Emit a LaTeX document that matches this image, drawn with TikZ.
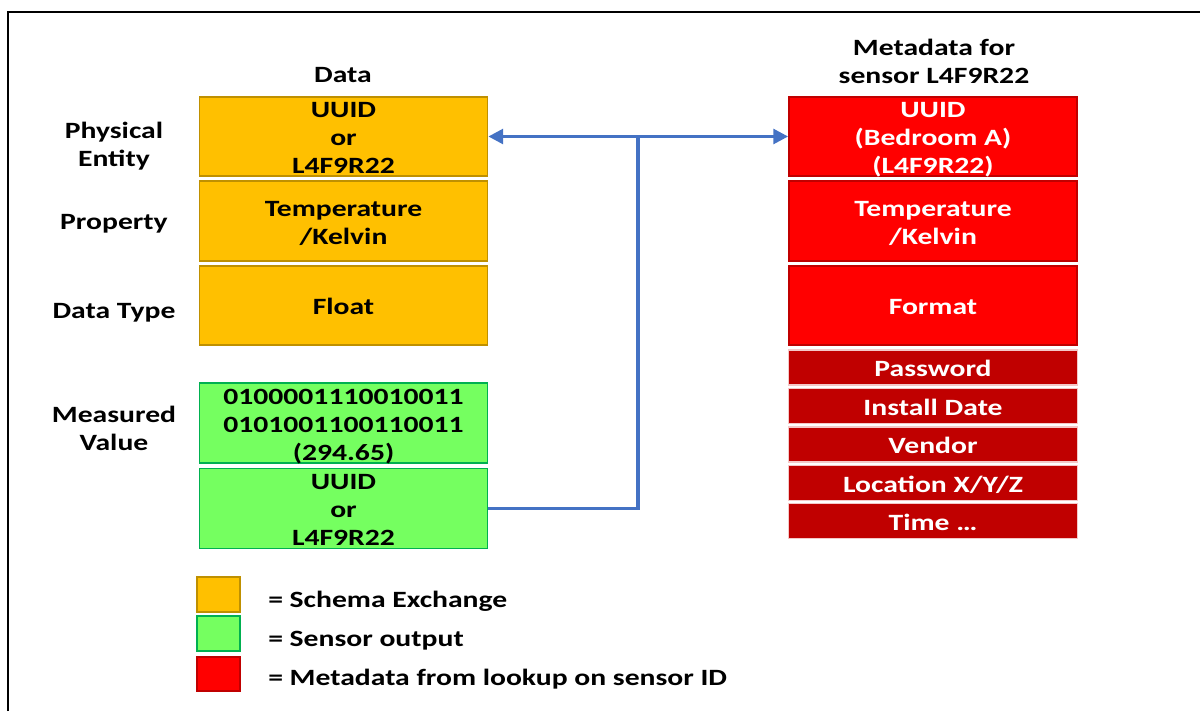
\documentclass[tikz,border=0pt]{standalone}
\usepackage{fontspec}
\setmainfont{Carlito}[FakeStretch=1.27]
\usetikzlibrary{arrows.meta}
\definecolor{orf}{HTML}{FFC000}
\definecolor{ord}{HTML}{BF9000}
\definecolor{grf}{HTML}{75FF60}
\definecolor{grd}{HTML}{00B050}
\definecolor{rdf}{HTML}{FF0000}
\definecolor{rdd}{HTML}{C00000}
\definecolor{drf}{HTML}{C00000}
\definecolor{drd}{HTML}{F4C8C8}
\definecolor{conn}{HTML}{4472C4}
\tikzset{
  every node/.style={font=\fontsize{17.5pt}{21pt}\selectfont\bfseries, align=center, inner sep=0pt,
    text height=18pt, text depth=4.5pt},
  mltwo/.style={text height=39pt},
  mlthree/.style={text height=60pt, inner ysep=-3pt},
  bigbox/.style={draw, line width=1.3pt, minimum width=216pt, minimum height=59.5pt},
  smallbox/.style={draw, line width=1.1pt, minimum width=217pt, minimum height=26pt},
  orbox/.style={bigbox, fill=orf, draw=ord},
  grbox/.style={bigbox, fill=grf, draw=grd, minimum height=60pt},
  rdbox/.style={bigbox, fill=rdf, draw=rdd, text=white},
  drbox/.style={smallbox, fill=drf, draw=drd, text=white},
  legbox/.style={draw, line width=1.3pt, minimum width=32pt, minimum height=26pt,
    text height=0pt, text depth=0pt},
  connline/.style={draw=conn, line width=2.4pt},
  lab/.style={anchor=center}
}
\begin{document}
\begin{tikzpicture}[x=0.75pt, y=-0.75pt]
\useasboundingbox (0,0) rectangle (1200,711);
% frame
\draw[line width=1.2pt] (8,711) -- (8,12) -- (1200,12);
% headers
\node[lab] (hdata) at (343,73) {Data};
\node[lab, mltwo] (hmeta) at (934,60) {Metadata for\\sensor L4F9R22};
% row labels
\node[lab, mltwo] (lpe) at (114,143.5) {Physical\\Entity};
\node[lab] (lprop) at (114,220) {Property};
\node[lab] (ldt) at (114,309) {Data Type};
\node[lab, mltwo] (lmv) at (114,427.5) {Measured\\Value};
% orange data boxes
\node[orbox, mlthree] (o1) at (343.5,136.5) {UUID\\or\\L4F9R22};
\node[orbox, mltwo] (o2) at (343.5,221) {Temperature\\/Kelvin};
\node[orbox] (o3) at (343.5,305.5) {Float};
% green boxes
\node[grbox, mlthree] (g1) at (343.5,423) {0100001110010011\\0101001100110011\\(294.65)};
\node[grbox, mlthree] (g2) at (343.5,508.5) {UUID\\or\\L4F9R22};
% red metadata boxes
\node[rdbox, mlthree] (r1) at (933,136.5) {UUID\\(Bedroom A)\\(L4F9R22)};
\node[rdbox, mltwo] (r2) at (933,221) {Temperature\\/Kelvin};
\node[rdbox] (r3) at (933,305.5) {Format};
\node[drbox] (d1) at (933,367.5) {Password};
\node[drbox] (d2) at (933,406) {Install Date};
\node[drbox] (d3) at (933,444.5) {Vendor};
\node[drbox] (d4) at (933,483) {Location X/Y/Z};
\node[drbox] (d5) at (933,521) {Time \dots};
% connectors
\coordinate (j) at (638,136.5);
\draw[connline, {Triangle[length=11pt,width=11pt]}-{Triangle[length=11pt,width=11pt]}] (o1.east) -- (r1.west);
\draw[connline] (g2.east) -| (j);
% legend
\node[legbox, fill=orf, draw=ord] (k1) at (218.5,594.5) {};
\node[legbox, fill=grf, draw=grd] (k2) at (218.5,633.5) {};
\node[legbox, fill=rdf, draw=rdd] (k3) at (218.5,674) {};
\node[anchor=west] (t1) at (268,598) {= Schema Exchange};
\node[anchor=west] (t2) at (268,637) {= Sensor output};
\node[anchor=west] (t3) at (268,676) {= Metadata from lookup on sensor ID};
\end{tikzpicture}
\end{document}
